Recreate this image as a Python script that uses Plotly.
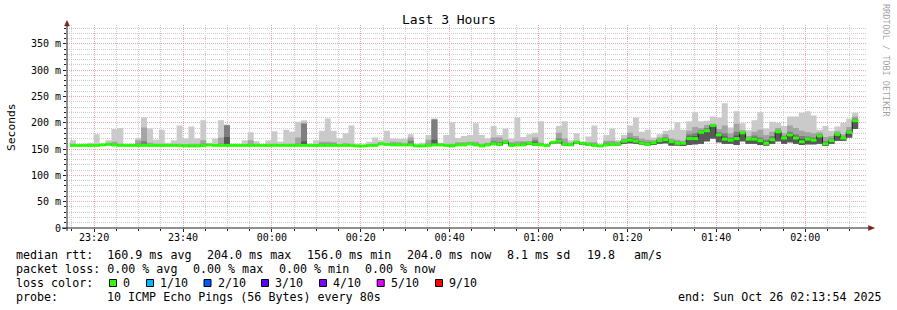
import pandas as pd
import plotly.graph_objects as go

# ---------------- data (values in ms) ----------------
first_step = "2025-10-25 23:14:34"
step_seconds = 80
x_range = ["2025-10-25 23:13:54", "2025-10-26 02:13:54"]

median = [157,157,157,157,157,158,159,158,157,157,157,157,157,157,157,157,157,157,157,156,156,156,157,158,157,157,157,157,157,157,157,157,157,157,
          157,157,157,157,157,157,157,157,157,157,157,157,157,157,156,156,157,157,160,159,158,158,158,158,156,156,157,158,158,157,156,158,158,
          160,158,156,158,160,159,163,157,158,158,161,159,158,157,163,165,159,158,163,161,159,157,156,158,159,159,165,167,165,161,159,162,166,168,
          164,161,161,170,170,182,185,195,177,169,167,170,181,169,169,166,161,168,183,171,177,171,164,169,167,175,160,166,178,171,182,204]

ping_max = [167,158,160,162,178,159,167,188,190,160,160,171,210,189,168,187,162,167,195,170,193,170,205,160,170,205,197,160,160,167,182,165,159,167,
            184,164,187,183,202,205,160,167,185,208,185,170,180,195,159,157,164,172,167,185,170,169,169,178,160,162,177,208,162,177,201,171,175,
            177,199,177,170,194,177,189,170,210,173,178,181,203,159,165,194,203,167,180,164,174,195,159,177,189,167,177,195,210,183,187,172,178,185,
            187,201,187,203,220,203,204,212,210,237,191,222,199,186,205,220,189,202,200,194,212,212,219,222,214,187,194,185,193,200,208,219]

ping_p9 = [160,158,158,159,159,158,162,164,160,158,158,167,191,162,160,160,159,160,160,159,160,160,167,159,159,172,196,158,158,159,167,160,158,160,
           160,159,160,160,172,200,158,159,164,164,163,159,161,160,157,157,159,160,162,161,164,163,161,172,157,158,168,207,160,160,160,163,163,
           164,164,160,162,172,172,168,163,165,165,165,172,162,158,164,181,170,162,166,162,163,163,157,166,166,164,170,181,175,170,168,167,172,178,
           170,168,166,185,192,190,196,198,188,195,180,198,186,175,183,187,177,183,190,180,195,190,185,182,180,182,173,175,184,178,192,212]

ping_p8 = [158,157,157,158,158,158,160,160,158,157,157,160,165,159,158,158,158,158,158,157,158,158,160,158,158,160,195,157,157,158,159,158,157,158,
           158,158,158,158,160,198,157,158,160,160,160,158,159,158,156,156,158,158,161,160,160,160,159,166,156,157,160,206,159,158,158,160,160,
           162,160,158,160,165,163,165,160,160,162,162,167,160,157,163,170,162,160,164,161,161,160,156,162,162,161,168,172,170,165,163,164,169,172,
           166,164,163,178,180,186,190,197,182,180,172,183,183,171,176,172,168,175,186,175,183,178,175,174,172,178,165,170,180,174,186,208]

ping_p7 = [157,157,157,157,157,158,159,158,157,157,157,157,159,157,157,157,157,157,157,156,156,156,157,158,157,157,173,157,157,157,157,157,157,157,
           157,157,157,157,157,165,157,157,157,157,157,157,157,157,156,156,157,157,160,159,158,158,158,160,156,156,157,168,158,157,156,158,158,
           160,158,156,158,161,160,163,159,158,158,161,163,158,157,163,166,159,158,163,161,159,157,156,158,159,159,166,169,167,162,159,162,167,170,
           165,162,162,174,175,184,187,196,179,174,169,176,182,170,172,168,164,171,184,173,180,174,169,171,169,176,162,168,179,172,184,206]

ping_min = [156,156,156,156,156,157,158,157,156,156,156,156,156,156,156,156,156,156,156,155,155,155,156,157,156,156,156,156,156,156,156,156,156,156,
            156,156,156,156,156,156,156,156,156,156,156,156,156,156,155,155,156,156,158,158,157,157,157,157,155,155,156,157,157,156,155,157,157,
            158,156,155,157,158,157,160,156,157,157,158,157,157,156,160,161,157,157,160,158,157,156,155,157,157,157,160,161,160,158,157,158,160,161,
            157,157,156,158,159,160,165,170,163,160,160,158,165,160,160,158,157,160,165,160,163,160,158,159,159,160,156,160,166,166,172,188]

y_tick_vals = [0, 50, 100, 150, 200, 250, 300, 350]
y_tick_text = ["0", "50 m", "100 m", "150 m", "200 m", "250 m", "300 m", "350 m"]

loss_labels = ["0", "1/10", "2/10", "3/10", "4/10", "5/10", "9/10"]
loss_colors = ["#26ff00", "#00b8ff", "#0059ff", "#5e00ff", "#7e00ff", "#dd00ff", "#ff0000"]

stats_line1 = ["median rtt:  160.9 ms avg", "204.0 ms max", "156.0 ms min", "204.0 ms now", "8.1 ms sd", "19.8", "am/s"]
stats_line2 = ["packet loss: 0.00 % avg", "0.00 % max", "0.00 % min", "0.00 % now"]
probe_text = ["probe:", "10 ICMP Echo Pings (56 Bytes) every 80s"]
end_text = "end: Sun Oct 26 02:13:54 2025"
title_text = "Last 3 Hours"

# ---------------- layout geometry ----------------
W, H = 897, 310
L, R, T, B = 67, 30, 25, 82
PW, PH = W - L - R, H - T - B
MONO = "DejaVu Sans Mono"

def PX(px):
    return (px - L) / PW

def PY(py):
    return (H - B - py) / PH

times = pd.date_range(first_step, periods=len(median), freq=f"{step_seconds}s")
step = pd.Timedelta(seconds=step_seconds)
edges = list(times) + [times[-1] + step]

def ext(v):
    return list(v) + [v[-1]]

fig = go.Figure()

def band(top, color):
    fig.add_trace(go.Scatter(x=edges, y=ext(ping_min), mode="lines",
                             line=dict(width=0, shape="hv"), hoverinfo="skip", showlegend=False))
    fig.add_trace(go.Scatter(x=edges, y=ext(top), mode="lines", fill="tonexty", fillcolor=color,
                             line=dict(width=0, shape="hv", color=color), hoverinfo="skip", showlegend=False))

band(ping_max, "#cacaca")
band(ping_p9, "#a4a4a4")
band(ping_p8, "#7e7e7e")
band(ping_p7, "#585858")

# median line (black) with loss-coloured median segments on top
fig.add_trace(go.Scatter(x=edges, y=ext(median), mode="lines",
                         line=dict(color="#202020", width=1, shape="hv"),
                         hoverinfo="skip", showlegend=False))
gx, gy = [], []
for t, m in zip(times, median):
    gx += [t, t + step, None]
    gy += [m, m, None]
fig.add_trace(go.Scatter(x=gx, y=gy, mode="lines", connectgaps=False,
                         line=dict(color=loss_colors[0], width=3),
                         hoverinfo="skip", showlegend=False))

grid_minor = "#cdcdcd"
grid_major = "#f0a8a8"

fig.update_layout(
    width=W, height=H, autosize=False,
    margin=dict(l=L, r=R, t=T, b=B, pad=0),
    paper_bgcolor="white", plot_bgcolor="white",
    showlegend=False,
    font=dict(family=MONO, color="black"),
    xaxis=dict(type="date", range=x_range, tickformat="%H:%M",
               tick0="2025-10-25 23:20:00", dtick=1200000,
               showgrid=True, gridcolor=grid_major, griddash="1px,1px", gridwidth=1,
               minor=dict(tick0="2025-10-25 23:15:00", dtick=300000, showgrid=True,
                          gridcolor=grid_minor, griddash="1px,1px", gridwidth=1,
                          ticks="outside", ticklen=2, tickcolor="#1f1f1f"),
               ticks="outside", ticklen=3, tickcolor="#1f1f1f", ticklabelstandoff=-3,
               showline=False, zeroline=False, fixedrange=True,
               tickfont=dict(family=MONO, size=10, color="black")),
    yaxis=dict(range=[0, PH / 0.526], tickvals=y_tick_vals, ticktext=y_tick_text,
               showgrid=True, gridcolor=grid_major, griddash="1px,1px", gridwidth=1,
               minor=dict(dtick=10, showgrid=True, gridcolor=grid_minor,
                          griddash="1px,1px", gridwidth=1,
                          ticks="outside", ticklen=2, tickcolor="#1f1f1f"),
               ticks="outside", ticklen=3, tickcolor="#1f1f1f",
               showline=False, zeroline=False, fixedrange=True,
               tickfont=dict(family=MONO, size=10, color="black")),
)

shapes = []
shapes.append(dict(type="line", xref="paper", yref="paper", x0=PX(62), x1=PX(870), y0=PY(228), y1=PY(228),
                   line=dict(color="#1f1f1f", width=1)))
shapes.append(dict(type="line", xref="paper", yref="paper", x0=PX(67), x1=PX(67), y0=PY(231), y1=PY(23),
                   line=dict(color="#1f1f1f", width=1)))

def tri(pts, color):
    p = "M " + " L ".join(f"{PX(a)},{PY(b)}" for a, b in pts) + " Z"
    return dict(type="path", xref="paper", yref="paper", path=p,
                fillcolor=color, line=dict(color=color, width=0.5))
shapes.append(tri([(64.5, 26), (69.5, 26), (67, 20.5)], "#801f1f"))
shapes.append(tri([(868.5, 225.5), (868.5, 230.5), (874.5, 228)], "#801f1f"))

annotations = []
def txt(s, x, y, size=11.67, anchor="left", angle=0, color="black"):
    annotations.append(dict(text=s.replace(" ", "\u00a0"), x=PX(x), y=PY(y), xref="paper", yref="paper",
                            xanchor=anchor, yanchor="middle", showarrow=False, textangle=angle,
                            borderpad=0, borderwidth=0,
                            font=dict(family=MONO, size=size, color=color)))

txt(title_text, 448.5, 19, size=13, anchor="center")
txt("Seconds", 11, 127, size=11.3, anchor="center", angle=-90)
txt("RRDTOOL / TOBI OETIKER", 886, 60, size=8.5, anchor="center", angle=90, color="rgba(0,0,0,0.4)")

line1_x = [16, 207, 307, 407, 507, 587, 634]
for s, x in zip(stats_line1, line1_x):
    txt(s, x, 255)
line2_x = [16, 193.3, 279.3, 365.3]
for s, x in zip(stats_line2, line2_x):
    txt(s, x, 268.7)
txt("loss color:", 16, 282.7)
box_x = [109, 146, 203.5, 261, 319, 376.7, 435]
for lab, col, bx in zip(loss_labels, loss_colors, box_x):
    shapes.append(dict(type="rect", xref="paper", yref="paper",
                       x0=PX(bx + 0.5), x1=PX(bx + 7.5), y0=PY(279.5), y1=PY(286.5),
                       fillcolor=col, line=dict(color="black", width=1)))
    txt(lab, bx + 14.3, 282.7)
txt(probe_text[0], 16, 296.7)
txt(probe_text[1], 107.3, 296.7)
txt(end_text, 881.5, 296.7, anchor="right")

fig.update_layout(shapes=shapes, annotations=annotations)
fig.write_html("out.html")
